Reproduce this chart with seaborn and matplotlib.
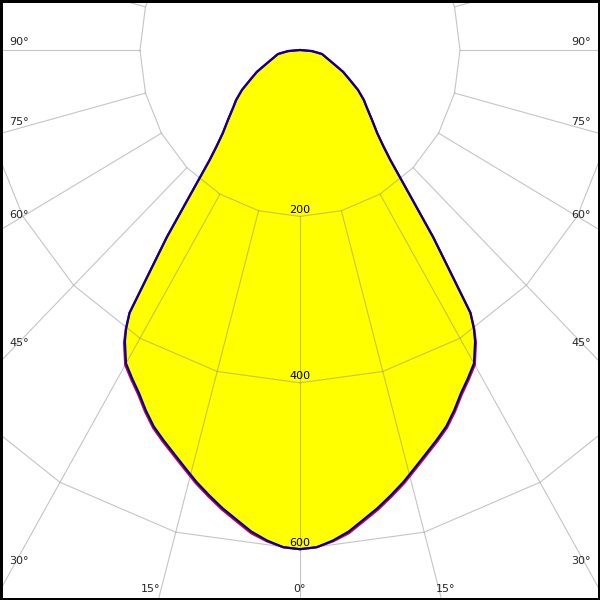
import matplotlib
matplotlib.use("Agg")
import matplotlib.pyplot as plt
import numpy as np
import pandas as pd
import seaborn as sns
from matplotlib.patches import Rectangle

# luminous intensity (cd) per gamma angle
gamma_deg = [0, 2, 4, 6, 8, 10, 12, 14, 16, 18, 20, 22, 24, 26, 28, 30, 32, 33,
             34, 35, 36.5, 38, 40.5, 42, 44, 47, 50.5, 53, 56.5, 60, 64, 69,
             80, 85, 90]
c90_c270 = [600, 598, 591, 582, 570, 559, 547, 535, 522, 510, 499, 488, 474,
            459, 447, 435, 413, 399, 381, 333, 280, 228, 174, 156, 139, 123,
            108, 100, 87, 72, 60, 44, 28, 15, 0]
c0_c180 = [600, 598, 592, 584, 572, 561, 549, 537, 524, 512, 501, 490, 476,
           461, 449, 437, 415, 400, 381, 333, 280, 228, 174, 156, 139, 123,
           108, 100, 87, 72, 60, 44, 28, 15, 0]

ring_values = [200, 400, 600]
spoke_step = 15
side_labels = ["90°", "75°", "60°", "45°", "30°"]
bottom_labels = ["15°", "0°", "15°"]

PX_X = 0.80    # px per cd, horizontal
PX_Y = 0.832   # px per cd, vertical
CX, CY = 300, 50
GRID = "#8c8c8c"


def to_xy(angles, values):
    a = np.radians(angles)
    v = np.asarray(values, dtype=float)
    return v * np.sin(a), -v * np.cos(a)


def mirrored(values):
    ang = [-g for g in gamma_deg[:0:-1]] + gamma_deg
    val = list(values[:0:-1]) + list(values)
    return ang, val


sns.set_style("white")
plt.rcParams["font.family"] = ["DejaVu Sans"]

fig = plt.figure(figsize=(6, 6), dpi=100)
ax = fig.add_axes([0, 0, 1, 1])

frames = []
for name, vals in [("C0-C180", c0_c180), ("C90-C270", c90_c270)]:
    ang, val = mirrored(vals)
    x, y = to_xy(ang, val)
    frames.append(pd.DataFrame({"x": x, "y": y, "plane": name}))
df = pd.concat(frames, ignore_index=True)

outer = df[df["plane"] == "C0-C180"]
ax.fill(outer["x"], outer["y"], color="#ffff00", lw=0, zorder=1)

# grid: polygonal rings with vertices on the spokes, spokes start at 200 cd
spokes = np.arange(0, 360 + spoke_step, spoke_step)
for rv in ring_values:
    gx, gy = to_xy(spokes, [rv] * len(spokes))
    ax.plot(gx, gy, color=GRID, lw=0.8, alpha=0.5, zorder=2)
for s in spokes[:-1]:
    gx, gy = to_xy([s, s], [ring_values[0], 900])
    ax.plot(gx, gy, color=GRID, lw=0.8, alpha=0.5, zorder=2)

sns.lineplot(data=df, x="x", y="y", hue="plane",
             hue_order=["C0-C180", "C90-C270"],
             palette={"C0-C180": "#d4002a", "C90-C270": "#0000a8"},
             sort=False, estimator=None, legend=False, lw=1.6, zorder=3, ax=ax)

for rv in ring_values:
    ax.text(0, -(rv - 8), str(rv), ha="center", va="center", fontsize=8,
            color="black", zorder=5)

ax.set_xlim(-CX / PX_X, (600 - CX) / PX_X)
ax.set_ylim(-(600 - CY) / PX_Y, CY / PX_Y)
ax.axis("off")

side_y = [42, 122, 215, 343, 561]
for lab, py in zip(side_labels, side_y):
    fig.text(9 / 600, 1 - py / 600, lab, ha="left", va="center", fontsize=8)
    fig.text(591 / 600, 1 - py / 600, lab, ha="right", va="center", fontsize=8)
for lab, px in zip(bottom_labels, [151, 299, 446]):
    fig.text(px / 600, 1 - 589 / 600, lab, ha="center", va="center", fontsize=8)

fig.add_artist(Rectangle((0, 0), 1, 1, transform=fig.transFigure, fill=False,
                         ec="black", lw=3.6))

fig.savefig("out.png", dpi=100)
